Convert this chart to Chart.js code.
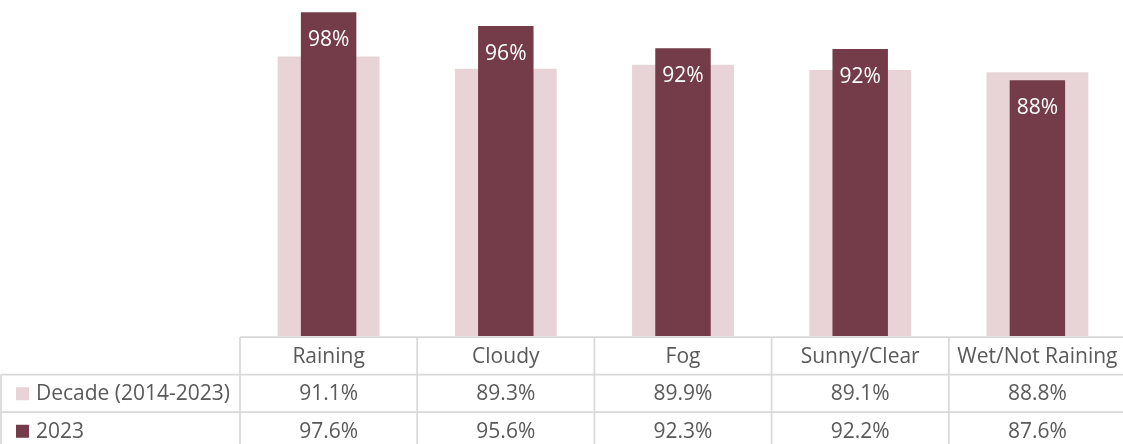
<!DOCTYPE html>
<html>
<head>
<meta charset="utf-8">
<script src="https://cdn.jsdelivr.net/npm/chart.js@4.4.1/dist/chart.umd.min.js"></script>
<style>
    html, body { margin: 0; padding: 0; background: #fff; }
    .wrap { position: relative; width: 1123px; height: 444px; overflow: hidden; }
    #myChart { position: absolute; left: 0; top: -4px; }
</style>
</head>
<body>
<div class="wrap">
    <canvas id="myChart" width="1130" height="470"></canvas>
</div>
<script>
const categories = ['Raining', 'Cloudy', 'Fog', 'Sunny/Clear', 'Wet/Not Raining'];
const seriesNames = ['Decade (2014-2023)', '2023'];
const decadeValues = [91.1, 89.3, 89.9, 89.1, 88.8];
const year2023Values = [97.6, 95.6, 92.3, 92.2, 87.6];

const colors = ['#E8D4D7', '#733C48'];
const gridColor = '#D9D9D9';
const textColor = '#595959';
const fontFamily = '"Open Sans", sans-serif';

// 막대 안쪽 라벨 (2023)
const barLabels = {
    id: 'barLabels',
    afterDatasetsDraw(chart) {
        const ctx = chart.ctx;
        const meta = chart.getDatasetMeta(1);
        ctx.save();
        ctx.fillStyle = '#FFFFFF';
        ctx.font = '21px ' + fontFamily;
        ctx.textAlign = 'center';
        ctx.textBaseline = 'middle';
        meta.data.forEach((bar, i) => {
            const v = chart.data.datasets[1].data[i];
            ctx.fillText(Math.round(v) + '%', bar.x, bar.y + 28);
        });
        ctx.restore();
    }
};

// 하단 데이터 테이블
const dataTable = {
    id: 'dataTable',
    afterDraw(chart) {
        const ctx = chart.ctx;
        const area = chart.chartArea;
        const x = chart.scales.x;
        const colW = (area.right - area.left) / categories.length;
        const top = area.bottom + 1;
        const rowH = 37.5;
        const rows = [decadeValues, year2023Values];

        ctx.save();
        ctx.strokeStyle = gridColor;
        ctx.lineWidth = 1.75;

        // 가로선
        ctx.beginPath();
        ctx.moveTo(area.left, top);
        ctx.lineTo(area.right, top);
        for (let r = 1; r <= rows.length + 1; r++) {
            ctx.moveTo(1, top + rowH * r);
            ctx.lineTo(area.right, top + rowH * r);
        }
        // 세로선
        ctx.moveTo(1, top + rowH);
        ctx.lineTo(1, top + rowH * 3);
        for (let c = 0; c <= categories.length; c++) {
            const cx = area.left + colW * c;
            ctx.moveTo(cx, top);
            ctx.lineTo(cx, top + rowH * 3);
        }
        ctx.stroke();

        ctx.font = '21px ' + fontFamily;
        ctx.fillStyle = textColor;
        ctx.textBaseline = 'middle';
        ctx.textAlign = 'center';

        categories.forEach((c, i) => {
            ctx.fillText(c, x.getPixelForValue(i), top + rowH / 2 + 1);
        });

        rows.forEach((vals, r) => {
            const cy = top + rowH * (r + 1) + rowH / 2 + 1;
            ctx.textAlign = 'center';
            ctx.fillStyle = textColor;
            vals.forEach((v, i) => {
                ctx.fillText(v.toFixed(1) + '%', x.getPixelForValue(i), cy);
            });
            ctx.fillStyle = colors[r];
            ctx.fillRect(16, cy - 7, 13, 13);
            ctx.fillStyle = textColor;
            ctx.textAlign = 'left';
            ctx.fillText(seriesNames[r], 36, cy);
        });
        ctx.restore();
    }
};

window.addEventListener('DOMContentLoaded', function() {
    const ctx = document.getElementById('myChart').getContext('2d');
    new Chart(ctx, {
        type: 'bar',
        data: {
            labels: categories,
            datasets: [{
                label: seriesNames[0],
                data: decadeValues,
                backgroundColor: colors[0],
                barPercentage: 0.575,
                categoryPercentage: 1,
                order: 2
            }, {
                label: seriesNames[1],
                data: year2023Values,
                backgroundColor: colors[1],
                barPercentage: 0.313,
                categoryPercentage: 1,
                order: 1
            }]
        },
        options: {
            responsive: false,
            animation: false,
            devicePixelRatio: 1,
            layout: { padding: { top: 0, left: 240, right: 4, bottom: 130 } },
            plugins: {
                legend: { display: false },
                tooltip: { enabled: false }
            },
            scales: {
                x: { display: false },
                y: { display: false, min: 50, max: 100 }
            },
            datasets: { bar: { grouped: false } }
        },
        plugins: [barLabels, dataTable]
    });
});
</script>
</body>
</html>
